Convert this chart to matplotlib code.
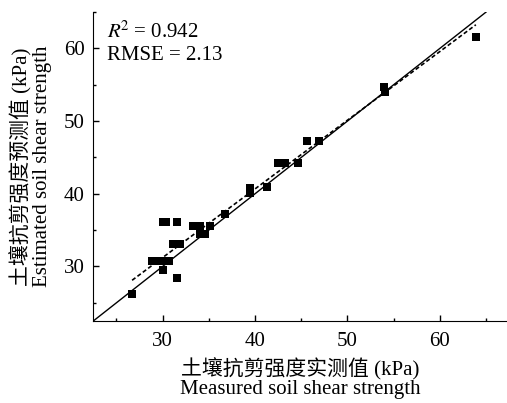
import numpy as np
import matplotlib
matplotlib.use("Agg")
import matplotlib.pyplot as plt
from matplotlib.ticker import MultipleLocator

measured = [26.7, 28.8, 29.5, 30.0, 30.7, 30.0, 31.6, 30.0, 30.4, 31.6,
            31.1, 31.9, 33.3, 34.1, 35.1, 34.1, 34.6, 36.7, 39.45, 39.45,
            41.3, 42.45, 43.3, 44.6, 45.6, 46.9, 54.0, 54.1, 63.9]
estimated = [26.2, 30.8, 30.8, 30.8, 30.8, 29.5, 28.4, 36.1, 36.1, 36.1,
             33.1, 33.1, 35.6, 35.6, 35.6, 34.45, 34.45, 37.2, 40.8, 40.1,
             40.9, 44.2, 44.2, 44.2, 47.3, 47.2, 54.7, 54.0, 61.6]

# fitted line (dashed) and 1:1 line
fit_slope = 0.945
fit_intercept = 2.87
r2_text = "0.942"
rmse_text = "2.13"

plt.rcParams["font.family"] = ["Liberation Serif", "Noto Sans CJK SC"]
plt.rcParams["mathtext.fontset"] = "stix"

fontsize = 15

fig = plt.figure(figsize=(5.07, 4.03), dpi=100)
ax = fig.add_axes([0.184, 0.2035, 0.816, 0.7665])

xlim = (22.5, 67.27)
ylim = (22.5, 65.0)

ax.plot([22.5, 65.0], [22.5, 65.0], color="black", lw=1.0)

xs = np.array([min(measured), max(measured)])
ax.plot(xs, fit_slope * xs + fit_intercept, color="black", lw=1.2, linestyle=(0, (2.5, 1.5)))

ax.plot(measured, estimated, "s", color="black", markersize=6, markeredgewidth=0)

ax.set_xlim(*xlim)
ax.set_ylim(*ylim)

ax.spines["top"].set_visible(False)
ax.spines["right"].set_visible(False)

ax.xaxis.set_major_locator(MultipleLocator(10))
ax.xaxis.set_minor_locator(MultipleLocator(5))
ax.yaxis.set_major_locator(MultipleLocator(10))
ax.yaxis.set_minor_locator(MultipleLocator(5))
ax.tick_params(which="major", direction="in", length=4, width=1, labelsize=fontsize)
ax.tick_params(axis="x", which="major", pad=8)
ax.tick_params(axis="y", which="major", pad=6)
ax.tick_params(which="minor", direction="in", length=2.5, width=1)

ax.set_xlabel("土壤抗剪强度实测值 (kPa)\nMeasured soil shear strength", fontsize=fontsize,
              linespacing=1.0, labelpad=5)
ax.set_ylabel("土壤抗剪强度预测值 (kPa)\nEstimated soil shear strength", fontsize=fontsize,
              linespacing=1.0, labelpad=9)

ax.text(0.032, 0.97, "$\\mathit{R}^{\\!2}$ = " + r2_text + "\nRMSE = " + rmse_text,
        transform=ax.transAxes, ha="left", va="top", fontsize=fontsize, linespacing=1.2)

fig.savefig("out.png", dpi=100)
